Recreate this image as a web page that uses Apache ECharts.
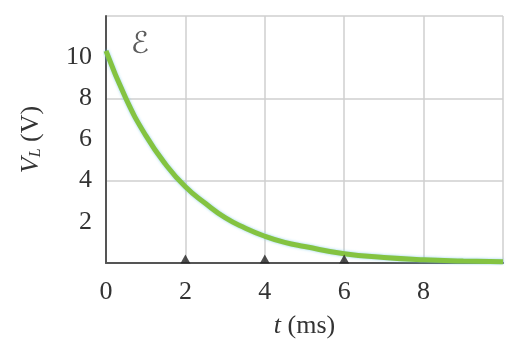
<!DOCTYPE html>
<html>
<head>
<meta charset="utf-8">
<script src="https://cdn.jsdelivr.net/npm/echarts@6/dist/echarts.min.js"></script>
<style>
  html, body { margin: 0; padding: 0; background: #fff; }
  #chart { width: 506px; height: 351px; }
</style>
</head>
<body>
<div id="chart"></div>
<script>
// data
const timeMs = [0, 0.5, 1, 1.5, 2, 2.5, 3, 3.5, 4, 4.5, 5, 6, 7, 8, 9, 10];
const voltage = [10.3, 8.0, 6.2, 4.8, 3.7, 2.9, 2.2, 1.7, 1.3, 1.0, 0.8, 0.45, 0.27, 0.16, 0.1, 0.06];
const markerTimes = [2, 4, 6];
const xTicks = [0, 2, 4, 6, 8];
const yTicks = [2, 4, 6, 8, 10];
const emfLabel = { text: 'ℰ', t: 0.85, v: 10.6 };

const serif = '"Liberation Serif", "DejaVu Serif", serif';

const chart = echarts.init(document.getElementById('chart'));

chart.setOption({
    backgroundColor: '#ffffff',
    animation: false,
    grid: { left: 106, right: 0, top: 16, bottom: 88 },
    xAxis: {
        type: 'value',
        min: 0,
        max: 10,
        interval: 2,
        name: '{i|t} (ms)',
        nameLocation: 'middle',
        nameGap: 50,
        nameTextStyle: {
            fontFamily: serif, fontSize: 26, color: '#333',
            rich: { i: { fontStyle: 'italic', fontFamily: serif, fontSize: 26, color: '#333' } }
        },
        axisLine: { show: true, onZero: false, lineStyle: { color: '#555', width: 2 } },
        axisTick: { show: false },
        axisLabel: {
            fontFamily: serif, fontSize: 26, color: '#333', margin: 16,
            formatter: function (v) { return xTicks.indexOf(v) >= 0 ? String(v) : ''; }
        },
        splitLine: { show: true, lineStyle: { color: '#cfcfcf', width: 1.5 } }
    },
    yAxis: [{
        type: 'value',
        min: 0,
        max: 12,
        interval: 2,
        name: '{i|V}{s|L} (V)',
        nameLocation: 'middle',
        nameGap: 62,
        nameRotate: 90,
        nameTextStyle: {
            fontFamily: serif, fontSize: 26, color: '#333',
            rich: {
                i: { fontStyle: 'italic', fontFamily: serif, fontSize: 26, color: '#333' },
                s: { fontStyle: 'italic', fontFamily: serif, fontSize: 16, color: '#333', verticalAlign: 'bottom', padding: [10, 0, 0, 0] }
            }
        },
        axisLine: { show: true, lineStyle: { color: '#555', width: 2 } },
        axisTick: { show: false },
        axisLabel: {
            fontFamily: serif, fontSize: 26, color: '#333', margin: 14,
            formatter: function (v) { return yTicks.indexOf(v) >= 0 ? String(v) : ''; }
        },
        splitLine: { show: false }
    }, {
        type: 'value',
        min: 0,
        max: 12,
        interval: 4,
        position: 'left',
        axisLine: { show: false },
        axisTick: { show: false },
        axisLabel: { show: false },
        splitLine: { show: true, lineStyle: { color: '#cfcfcf', width: 1.5 } }
    }],
    series: [{
        type: 'line',
        data: timeMs.map(function (t, i) { return [t, voltage[i]]; }),
        smooth: true,
        showSymbol: false,
        z: 5,
        lineStyle: { color: '#84c341', width: 5, shadowColor: 'rgba(120,200,230,0.8)', shadowBlur: 3 }
    }, {
        type: 'scatter',
        data: markerTimes.map(function (t) { return [t, 0]; }),
        symbol: 'triangle',
        symbolSize: [10, 9],
        symbolOffset: [0, -4],
        z: 6,
        itemStyle: { color: '#222' }
    }, {
        type: 'scatter',
        data: [[emfLabel.t, emfLabel.v]],
        symbolSize: 1,
        itemStyle: { color: 'rgba(0,0,0,0)' },
        z: 7,
        label: {
            show: true,
            position: 'inside',
            formatter: emfLabel.text,
            fontFamily: '"DejaVu Serif", "DejaVu Sans", serif',
            fontStyle: 'italic',
            fontSize: 30,
            color: '#333'
        }
    }]
});
</script>
</body>
</html>
